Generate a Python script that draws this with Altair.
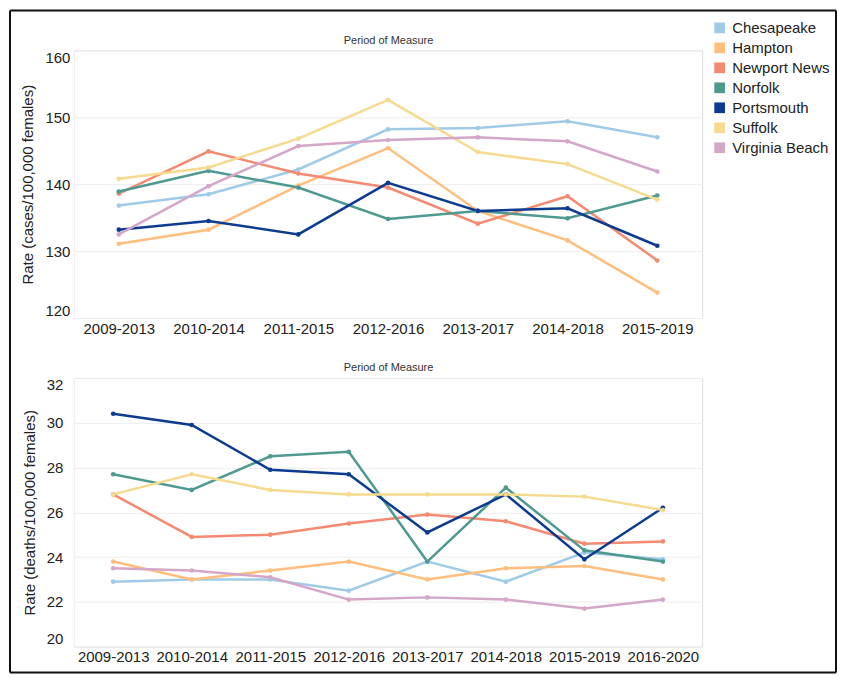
import altair as alt
import pandas as pd

cities = ["Chesapeake", "Hampton", "Newport News", "Norfolk", "Portsmouth", "Suffolk", "Virginia Beach"]
colors = ["#a0cbe8", "#ffbe7d", "#f48a72", "#4e9a8f", "#0c3b8f", "#f5da8f", "#d4a6c8"]

periods_top = ["2009-2013", "2010-2014", "2011-2015", "2012-2016", "2013-2017", "2014-2018", "2015-2019"]
cases = {
    "Chesapeake":     [136.8, 138.5, 142.2, 148.2, 148.4, 149.4, 147.0],
    "Hampton":        [131.1, 133.2, 139.8, 145.4, 136.0, 131.6, 123.8],
    "Newport News":   [138.6, 144.9, 141.6, 139.5, 134.1, 138.2, 128.6],
    "Norfolk":        [138.9, 142.0, 139.5, 134.8, 136.0, 134.9, 138.3],
    "Portsmouth":     [133.2, 134.5, 132.5, 140.2, 136.0, 136.4, 130.8],
    "Suffolk":        [140.8, 142.5, 146.8, 152.6, 144.8, 143.0, 137.7],
    "Virginia Beach": [132.5, 139.7, 145.7, 146.6, 147.0, 146.4, 141.9],
}

periods_bot = ["2009-2013", "2010-2014", "2011-2015", "2012-2016", "2013-2017", "2014-2018", "2015-2019", "2016-2020"]
deaths = {
    "Chesapeake":     [22.9, 23.0, 23.0, 22.5, 23.8, 22.9, 24.2, 23.9],
    "Hampton":        [23.8, 23.0, 23.4, 23.8, 23.0, 23.5, 23.6, 23.0],
    "Newport News":   [26.8, 24.9, 25.0, 25.5, 25.9, 25.6, 24.6, 24.7],
    "Norfolk":        [27.7, 27.0, 28.5, 28.7, 23.8, 27.1, 24.3, 23.8],
    "Portsmouth":     [30.4, 29.9, 27.9, 27.7, 25.1, 26.8, 23.9, 26.2],
    "Suffolk":        [26.8, 27.7, 27.0, 26.8, 26.8, 26.8, 26.7, 26.1],
    "Virginia Beach": [23.5, 23.4, 23.1, 22.1, 22.2, 22.1, 21.7, 22.1],
}

top_ticks = [120, 130, 140, 150, 160]
bot_ticks = [20, 22, 24, 26, 28, 30, 32]


def long_df(periods, table):
    rows = []
    for c in cities:
        for p, v in zip(periods, table[c]):
            rows.append({"Period": p, "City": c, "Rate": v})
    return pd.DataFrame(rows)


df_top = long_df(periods_top, cases)
df_bot = long_df(periods_bot, deaths)
one = pd.DataFrame({"a": [0]})

FONT = "Liberation Sans"
BORDER = "#111111"
W = 629

color_enc = alt.Color(
    "City:N",
    scale=alt.Scale(domain=cities, range=colors),
    legend=alt.Legend(
        title=None, orient="none", legendX=639, legendY=-30, symbolType="square",
        symbolSize=115, symbolStrokeWidth=0, labelFontSize=15, labelFont=FONT,
        labelColor="#222222", rowPadding=4, labelOffset=5, padding=0,
    ),
)


def panel(df, periods, ticks, ytitle, height, b_top, b_bot, top_edge, lab_pad):
    x = alt.X("Period:N", sort=periods, scale=alt.Scale(type="point", padding=0.5),
              axis=alt.Axis(title="Period of Measure", titleY=-height - 7, titleBaseline="alphabetic",
                            titleFontSize=11, titleFontWeight="normal", titleFont=FONT,
                            titleColor="#333333",
                            labelAngle=0, ticks=False, domain=False, grid=False,
                            labelFontSize=15, labelFont=FONT, labelColor="#222222", labelPadding=3))
    y = alt.Y("Rate:Q", scale=alt.Scale(domain=[ticks[0], ticks[-1]], nice=False, zero=False),
              axis=alt.Axis(title=ytitle, values=ticks, ticks=False, labelFlush=True,
                            labelFontSize=15, labelFont=FONT, labelColor="#222222", labelPadding=lab_pad,
                            titleFontSize=15, titleFont=FONT, titleFontWeight="normal",
                            titleColor="#222222", titlePadding=9, gridColor="#ededed",
                            domainColor="#f0f0f0"))
    base = alt.Chart(df).encode(x=x, y=y, color=color_enc)
    lines = base.mark_line(strokeWidth=2.5)
    pts = base.mark_circle(size=22, opacity=1)
    deco = alt.Chart(one)
    bl, br = -64, 763
    left = deco.mark_rule(color=BORDER, strokeWidth=2).encode(
        x=alt.value(bl), y=alt.value(b_top), y2=alt.value(b_bot))
    right = deco.mark_rule(color=BORDER, strokeWidth=2).encode(
        x=alt.value(br), y=alt.value(b_top), y2=alt.value(b_bot))
    edge_y = b_top if top_edge else b_bot
    horiz = deco.mark_rule(color=BORDER, strokeWidth=2).encode(
        x=alt.value(bl), x2=alt.value(br), y=alt.value(edge_y))
    return alt.layer(lines, pts, left, right, horiz).properties(width=W, height=height)


top = panel(df_top, periods_top, top_ticks, "Rate (cases/100,000 females)", 268, -40, 296, True, 4)
bot = panel(df_bot, periods_bot, bot_ticks, "Rate (deaths/100,000 females)", 269, -32, 295, False, 11)

chart = alt.vconcat(top, bot, spacing=60, bounds="flush").properties(padding=0).configure_view(
    stroke=None
).configure(font=FONT, background="white")

chart.save("out.html", embed_options={"renderer": "svg", "actions": False})
